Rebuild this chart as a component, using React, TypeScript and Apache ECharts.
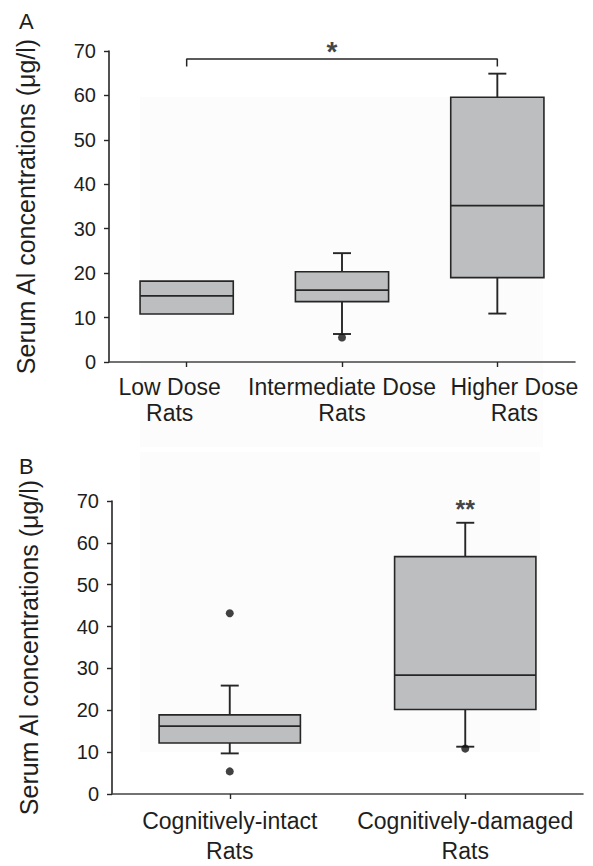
import React, { useEffect, useRef } from 'react';
import * as echarts from 'echarts';

// ---- Panel A data ----
const categoriesA = ['Low Dose\nRats', 'Intermediate Dose\nRats', 'Higher Dose\nRats'];
// [whiskerLow, Q1, median, Q3, whiskerHigh]
const boxesA = [
  [10.8, 10.8, 14.9, 18.2, 18.2],
  [6.3, 13.6, 16.2, 20.3, 24.5],
  [10.9, 19.0, 35.2, 59.6, 64.9],
];
const outliersA = [[1, 5.5]];
const bracketA = [[0, 66.5], [0, 68.2], [2, 68.2], [2, 66.5]];
const starA = [[1, 69.8]];

// ---- Panel B data ----
const categoriesB = ['Cognitively-intact\nRats', 'Cognitively-damaged\nRats'];
const boxesB = [
  [9.7, 12.2, 16.2, 18.9, 25.9],
  [11.3, 20.2, 28.4, 56.7, 64.8],
];
const outliersB = [[0, 43.2], [0, 5.4], [1, 10.85]];
const starB = [[1, 68.0]];

// ---- Axis ----
const yMin = 0;
const yMax = 70;
const yInterval = 10;
const yTitle = 'Serum Al concentrations (\u03bcg/l)';

const FONT = '"Liberation Sans", Arial, Helvetica, sans-serif';
const INK = '#1e1e1e';
const LINE = '#262626';
const BOXFILL = '#bdbebf';
const CAT_FONT = 23;

function renderBox(params: any, api: any) {
  const idx = api.value(0);
  const lo = api.value(1);
  const q1 = api.value(2);
  const med = api.value(3);
  const q3 = api.value(4);
  const hi = api.value(5);
  const band = api.size([1, 0])[0];
  const bw = band * 0.6;
  const cap = 18;
  const pLo = api.coord([idx, lo]);
  const pQ1 = api.coord([idx, q1]);
  const pMed = api.coord([idx, med]);
  const pQ3 = api.coord([idx, q3]);
  const pHi = api.coord([idx, hi]);
  const cx = pMed[0];
  const ls = { stroke: LINE, lineWidth: 1.9 };
  const children: any[] = [];
  if (lo < q1) {
    children.push({ type: 'line', shape: { x1: cx, y1: pQ1[1], x2: cx, y2: pLo[1] }, style: ls });
    children.push({ type: 'line', shape: { x1: cx - cap / 2, y1: pLo[1], x2: cx + cap / 2, y2: pLo[1] }, style: ls });
  }
  if (hi > q3) {
    children.push({ type: 'line', shape: { x1: cx, y1: pQ3[1], x2: cx, y2: pHi[1] }, style: ls });
    children.push({ type: 'line', shape: { x1: cx - cap / 2, y1: pHi[1], x2: cx + cap / 2, y2: pHi[1] }, style: ls });
  }
  children.push({
    type: 'rect',
    shape: { x: cx - bw / 2, y: pQ3[1], width: bw, height: pQ1[1] - pQ3[1] },
    style: { fill: BOXFILL, stroke: LINE, lineWidth: 1.6 },
  });
  children.push({
    type: 'line',
    shape: { x1: cx - bw / 2, y1: pMed[1], x2: cx + bw / 2, y2: pMed[1] },
    style: { stroke: LINE, lineWidth: 1.7 },
  });
  return { type: 'group', children };
}

function yAxisCfg(gridIndex: number) {
  return {
    type: 'value',
    gridIndex,
    min: yMin,
    max: yMax,
    interval: yInterval,
    name: yTitle,
    nameLocation: 'middle',
    nameGap: 71,
    nameTextStyle: { fontSize: 25, color: INK, fontFamily: FONT },
    axisLine: { show: true, lineStyle: { color: LINE, width: 1.6 } },
    axisTick: { show: true, length: 5, lineStyle: { color: LINE, width: 1.4 } },
    axisLabel: { fontSize: 20, color: INK, fontFamily: FONT, margin: 13 },
    splitLine: { show: false },
  };
}

function xAxisCfg(
  gridIndex: number,
  data: string[],
  lineHeight: number,
  margin: number,
  shifts: number[]
) {
  const rich: any = {};
  shifts.forEach((s, i) => {
    rich['c' + i] = {
      fontSize: CAT_FONT,
      lineHeight,
      color: INK,
      fontFamily: FONT,
      padding: s >= 0 ? [0, 0, 0, 2 * s] : [0, -2 * s, 0, 0],
    };
  });
  return {
    type: 'category',
    gridIndex,
    data,
    boundaryGap: true,
    axisLine: { show: true, lineStyle: { color: '#444', width: 1.6 } },
    axisTick: { show: true, alignWithLabel: true, length: 5, lineStyle: { color: LINE, width: 1.4 } },
    axisLabel: {
      interval: 0,
      fontSize: CAT_FONT,
      lineHeight,
      margin,
      color: INK,
      fontFamily: FONT,
      hideOverlap: false,
      formatter: (value: string, index: number) =>
        value
          .split('\n')
          .map((line) => `{c${index}|${line}}`)
          .join('\n'),
      rich,
    },
    splitLine: { show: false },
  };
}

export default function App() {
  const ref = useRef<HTMLDivElement>(null);
  useEffect(() => {
    if (!ref.current) return;
    const chart = echarts.init(ref.current, undefined, { renderer: 'svg' });
    const option: any = {
      animation: false,
      backgroundColor: '#ffffff',
      textStyle: { fontFamily: FONT },
      grid: [
        { left: 109, top: 51, width: 466, height: 311 },
        { left: 112, top: 501, width: 471, height: 303 },
      ],
      xAxis: [
        xAxisCfg(0, categoriesA, 26, 12, [-17, 0, 17]),
        xAxisCfg(1, categoriesB, 30, 12, [0, 0]),
      ],
      yAxis: [yAxisCfg(0), yAxisCfg(1)],
      graphic: [
        { type: 'rect', z: -10, silent: true, shape: { x: 140, y: 97, width: 403, height: 350 }, style: { fill: '#fcfcfc' } },
        { type: 'rect', z: -10, silent: true, shape: { x: 140, y: 452, width: 400, height: 300 }, style: { fill: '#fcfcfc' } },
        {
          type: 'text',
          x: 19,
          y: 10,
          z: 10,
          style: { text: 'A', font: 'normal 22px "Liberation Sans", Arial, sans-serif', fill: INK, textVerticalAlign: 'top' },
        },
        {
          type: 'text',
          x: 19,
          y: 455,
          z: 10,
          style: { text: 'B', font: 'normal 22px "Liberation Sans", Arial, sans-serif', fill: INK, textVerticalAlign: 'top' },
        },
      ],
      series: [
        {
          type: 'custom',
          xAxisIndex: 0,
          yAxisIndex: 0,
          renderItem: renderBox,
          encode: { x: 0, y: [1, 2, 3, 4, 5] },
          data: boxesA.map((b, i) => [i, ...b]),
          z: 3,
        },
        {
          type: 'scatter',
          xAxisIndex: 0,
          yAxisIndex: 0,
          data: outliersA,
          symbol: 'circle',
          symbolSize: 8,
          itemStyle: { color: '#111' },
          z: 5,
        },
        {
          type: 'line',
          xAxisIndex: 0,
          yAxisIndex: 0,
          data: bracketA,
          symbol: 'none',
          lineStyle: { color: LINE, width: 1.5 },
          clip: false,
          z: 4,
        },
        {
          type: 'scatter',
          xAxisIndex: 0,
          yAxisIndex: 0,
          data: starA,
          symbolSize: 0,
          clip: false,
          label: {
            show: true,
            position: 'inside',
            formatter: '*',
            fontSize: 28,
            fontWeight: 'bold',
            color: '#111',
            fontFamily: FONT,
            offset: [-10, 0],
          },
          z: 6,
        },
        {
          type: 'custom',
          xAxisIndex: 1,
          yAxisIndex: 1,
          renderItem: renderBox,
          encode: { x: 0, y: [1, 2, 3, 4, 5] },
          data: boxesB.map((b, i) => [i, ...b]),
          z: 3,
        },
        {
          type: 'scatter',
          xAxisIndex: 1,
          yAxisIndex: 1,
          data: outliersB,
          symbol: 'circle',
          symbolSize: 8,
          itemStyle: { color: '#111' },
          z: 5,
        },
        {
          type: 'scatter',
          xAxisIndex: 1,
          yAxisIndex: 1,
          data: starB,
          symbolSize: 0,
          clip: false,
          label: {
            show: true,
            position: 'inside',
            formatter: '**',
            fontSize: 25,
            fontWeight: 'bold',
            color: '#111',
            fontFamily: FONT,
          },
          z: 6,
        },
      ],
    };
    chart.setOption(option);
    return () => chart.dispose();
  }, []);
  return (
    <div
      ref={ref}
      style={{ position: 'absolute', left: 0, top: 0, width: 593, height: 866 }}
    />
  );
}
